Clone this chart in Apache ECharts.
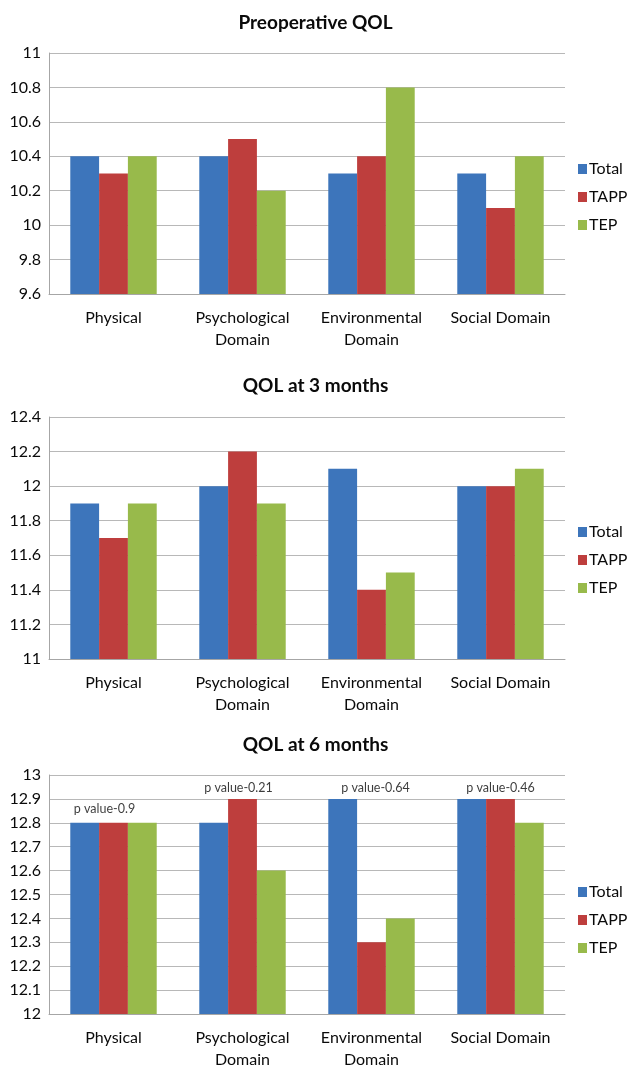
<!DOCTYPE html>
<html>
<head>
<meta charset="utf-8">
<title>QOL by domain</title>
<script src="https://cdn.jsdelivr.net/npm/echarts@6/dist/echarts.min.js"></script>
<style>
  html, body { margin: 0; padding: 0; background: #fff; }
  #chart { width: 631px; height: 1071px; }
</style>
</head>
<body>
<div id="chart"></div>
<script>
// Domains shown on every panel
const categories = ['Physical', 'Psychological\nDomain', 'Environmental\nDomain', 'Social Domain'];
const seriesNames = ['Total', 'TAPP', 'TEP'];

// Preoperative QOL
const preTotal = [10.4, 10.4, 10.3, 10.3];
const preTAPP  = [10.3, 10.5, 10.4, 10.1];
const preTEP   = [10.4, 10.2, 10.8, 10.4];

// QOL at 3 months
const m3Total = [11.9, 12.0, 12.1, 12.0];
const m3TAPP  = [11.7, 12.2, 11.4, 12.0];
const m3TEP   = [11.9, 11.9, 11.5, 12.1];

// QOL at 6 months
const m6Total = [12.8, 12.8, 12.9, 12.9];
const m6TAPP  = [12.8, 12.9, 12.3, 12.9];
const m6TEP   = [12.8, 12.6, 12.4, 12.8];
const m6PValues = ['p value-0.9', 'p value-0.21', 'p value-0.64', 'p value-0.46'];

const titles = ['Preoperative QOL', 'QOL at 3 months', 'QOL at 6 months'];
const yRanges = [
  { min: 9.6, max: 11, interval: 0.2 },
  { min: 11, max: 12.4, interval: 0.2 },
  { min: 12, max: 13, interval: 0.1 }
];

const colors = ['#3d75bb', '#be3e3d', '#98ba4b'];
const FONT = 'Lato, "Open Sans", sans-serif';
const TEXT = '#0a0a0a';

// Panel layout (pixels)
const panels = [
  { title: titles[0], data: [preTotal, preTAPP, preTEP], titleTop: 8, gridTop: 53, gridHeight: 241, legendTop: 161 },
  { title: titles[1], data: [m3Total, m3TAPP, m3TEP], titleTop: 371, gridTop: 417, gridHeight: 242, legendTop: 524 },
  { title: titles[2], data: [m6Total, m6TAPP, m6TEP], titleTop: 730, gridTop: 775, gridHeight: 240, legendTop: 884 }
];

const option = {
  animation: false,
  backgroundColor: '#ffffff',
  color: colors,
  title: [],
  legend: [],
  grid: [],
  xAxis: [],
  yAxis: [],
  series: []
};

panels.forEach((p, i) => {
  option.title.push({
    text: p.title,
    left: 'center',
    top: p.titleTop,
    textStyle: { fontFamily: FONT, fontSize: 19, fontWeight: 'bold', color: TEXT }
  });
  option.legend.push({
    data: seriesNames,
    orient: 'vertical',
    left: 578,
    top: p.legendTop,
    padding: 0,
    itemWidth: 9,
    itemHeight: 10,
    itemGap: 12,
    icon: 'rect',
    textStyle: { fontFamily: FONT, fontSize: 16, color: TEXT, padding: [0, 0, 0, -3] }
  });
  option.grid.push({ left: 49, right: 66, top: p.gridTop, height: p.gridHeight });
  option.xAxis.push({
    type: 'category',
    gridIndex: i,
    data: categories,
    axisLine: { lineStyle: { color: '#a6a6a6', width: 1 } },
    axisTick: { show: false },
    axisLabel: { fontFamily: FONT, fontSize: 16, color: TEXT, margin: 13, lineHeight: 22, interval: 0 }
  });
  option.yAxis.push({
    type: 'value',
    gridIndex: i,
    min: yRanges[i].min,
    max: yRanges[i].max,
    interval: yRanges[i].interval,
    axisLine: { show: true, lineStyle: { color: '#a6a6a6', width: 1 } },
    axisTick: { show: false },
    splitLine: { lineStyle: { color: '#b8b8b8', width: 1 } },
    axisLabel: { fontFamily: FONT, fontSize: 16, color: TEXT, margin: 8 }
  });
  p.data.forEach((values, k) => {
    option.series.push({
      name: seriesNames[k],
      type: 'bar',
      xAxisIndex: i,
      yAxisIndex: i,
      data: values,
      barGap: '0%',
      barCategoryGap: '33%',
      itemStyle: { color: colors[k] }
    });
  });
});

// p-value notes sit above the tallest bar of each domain in the 6-month panel
const m6GroupMax = categories.map((_, j) => Math.max(m6Total[j], m6TAPP[j], m6TEP[j]));
const pLabelShift = [[-9, 0], [-4, 0], [4, 0], [0, 0]];
option.series.push({
  name: 'p value',
  type: 'scatter',
  xAxisIndex: 2,
  yAxisIndex: 2,
  symbolSize: 0,
  silent: true,
  data: m6GroupMax.map((v, j) => ({
    value: v,
    label: { offset: pLabelShift[j], distance: j === 0 ? 7 : 4 }
  })),
  label: {
    show: true,
    position: 'top',
    formatter: (params) => m6PValues[params.dataIndex],
    fontFamily: FONT,
    fontSize: 12.5,
    color: TEXT
  }
});

const chart = echarts.init(document.getElementById('chart'), null, { renderer: 'canvas' });
chart.setOption(option);
</script>
</body>
</html>
